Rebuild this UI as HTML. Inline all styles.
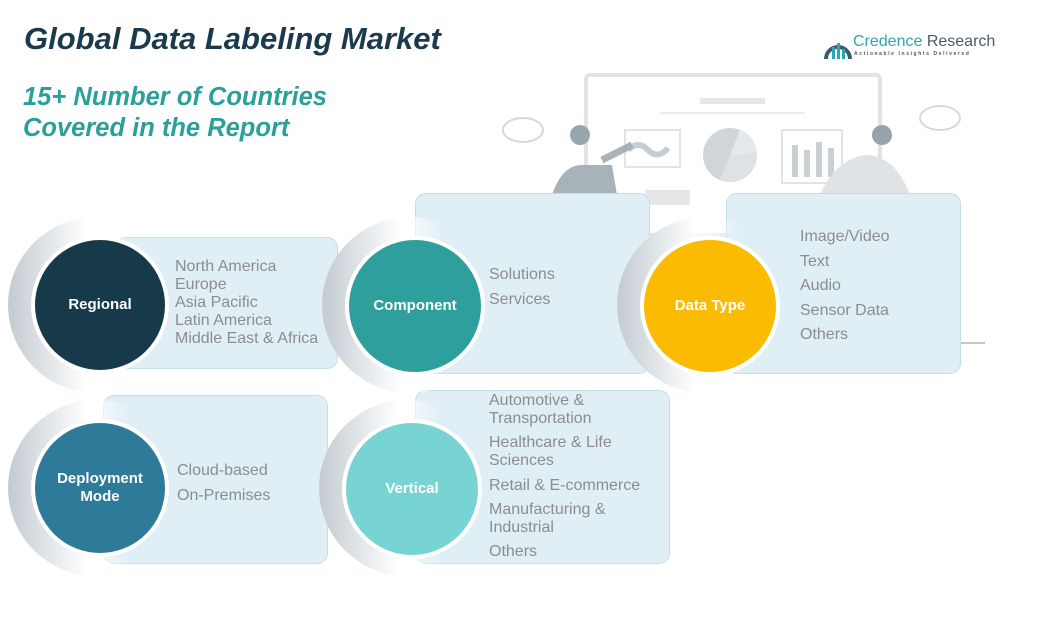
<!DOCTYPE html>
<html><head><meta charset="utf-8"><style>
body{margin:0;width:1061px;height:635px;background:#fff;position:relative;overflow:hidden;font-family:"Liberation Sans",sans-serif}
.a{position:absolute}
.panel{position:absolute;background:#e0eef6;border:1.5px solid #c4dde9;border-radius:11px;box-sizing:border-box}
.ring{position:absolute;border-radius:50%;background:linear-gradient(90deg,#c3cbd0 0%,#e4e8eb 25%,rgba(255,255,255,0.9) 45%,rgba(255,255,255,0) 70%)}
.c{position:absolute;border-radius:50%;border:4px solid #fff;box-sizing:border-box;color:#fff;font-weight:bold;font-size:15px;display:flex;align-items:center;justify-content:center;text-align:center;line-height:18px}
.t{position:absolute;color:#8d8d8d;font-size:16px;line-height:18px;white-space:nowrap}
</style></head><body>
<div class="a" style="left:24px;top:21px;font-size:31px;font-weight:bold;font-style:italic;color:#1b3a4c">Global Data Labeling Market</div>
<div class="a" style="left:23px;top:82px;font-size:25.5px;font-weight:bold;font-style:italic;color:#2a9f9c;line-height:31px">15+ Number of Countries<br>Covered in the Report</div>
<!-- logo -->
<svg class="a" style="left:823px;top:33px" width="30" height="28"><path d="M3 26 A12 12 0 1 1 27 26" fill="none" stroke="#3a5d6e" stroke-width="4"/><rect x="9" y="14" width="3" height="12" fill="#2aa6b5"/><rect x="14" y="10" width="3" height="16" fill="#2aa6b5"/><rect x="19" y="16" width="3" height="10" fill="#2aa6b5"/></svg>
<div class="a" style="left:853px;top:33px;font-size:16px;color:#2aa6b5">Credence <span style="color:#4b5c66">Research</span></div>
<div class="a" style="left:854px;top:51px;font-size:5px;letter-spacing:1.6px;color:#555;font-weight:bold">Actionable Insights Delivered</div>
<!-- illustration -->
<svg class="a" style="left:490px;top:60px" width="510" height="300">
<rect x="96" y="15" width="294" height="160" rx="4" fill="none" stroke="#e3e3e3" stroke-width="4"/>
<rect x="210" y="38" width="65" height="6" fill="#e6e6e6"/>
<line x1="170" y1="53" x2="315" y2="53" stroke="#ececec" stroke-width="2"/>
<rect x="135" y="70" width="55" height="37" fill="none" stroke="#e3e3e3" stroke-width="2"/>
<path d="M138 90 q10 -10 20 0 t20 -2" stroke="#c5cdd2" stroke-width="6" fill="none"/>
<circle cx="240" cy="95" r="27" fill="#cfd6da"/><path d="M240 95 L250 70 A27 27 0 0 1 267 93 Z" fill="#e6e9eb"/><path d="M240 95 L267 93 A27 27 0 0 1 230 120 Z" fill="#dde2e4"/>
<rect x="292" y="70" width="60" height="53" fill="none" stroke="#e3e3e3" stroke-width="2"/>
<rect x="302" y="85" width="6" height="32" fill="#c9d0d4"/><rect x="314" y="90" width="6" height="27" fill="#c9d0d4"/><rect x="326" y="82" width="6" height="35" fill="#c9d0d4"/><rect x="338" y="88" width="6" height="29" fill="#c9d0d4"/>
<path d="M62 135 q10 -30 30 -30 l30 0 l5 30 z" fill="#a7b2b9"/><circle cx="90" cy="75" r="10" fill="#9aa6ad"/><path d="M112 100 l30 -15" stroke="#a7b2b9" stroke-width="7"/>
<path d="M330 135 q15 -35 45 -40 q30 0 45 40 z" fill="#dfe3e6"/><circle cx="392" cy="75" r="10" fill="#97a3aa"/>
<ellipse cx="33" cy="70" rx="20" ry="12" fill="none" stroke="#d8d8d8" stroke-width="2"/>
<ellipse cx="450" cy="58" rx="20" ry="12" fill="none" stroke="#d8d8d8" stroke-width="2"/>
<rect x="155" y="130" width="45" height="15" fill="#e6e6e6"/>
<line x1="465" y1="283" x2="495" y2="283" stroke="#c8c8c8" stroke-width="2"/>
</svg>
<!-- panels -->
<div class="panel" style="left:115px;top:237px;width:223px;height:132px"></div>
<div class="panel" style="left:415px;top:193px;width:235px;height:181px"></div>
<div class="panel" style="left:726px;top:193px;width:235px;height:181px"></div>
<div class="panel" style="left:103px;top:395px;width:225px;height:169px"></div>
<div class="panel" style="left:415px;top:390px;width:255px;height:174px"></div>
<!-- rings -->
<div class="ring" style="left:8px;top:217px;width:176px;height:176px"></div>
<div class="ring" style="left:322px;top:217px;width:176px;height:176px"></div>
<div class="ring" style="left:617px;top:217px;width:176px;height:176px"></div>
<div class="ring" style="left:8px;top:400px;width:176px;height:176px"></div>
<div class="ring" style="left:319px;top:400px;width:176px;height:176px"></div>
<!-- circles -->
<div class="c" style="left:31px;top:236px;width:138px;height:138px;background:#173a4a">Regional</div>
<div class="c" style="left:345px;top:236px;width:140px;height:140px;background:#2e9f9d">Component</div>
<div class="c" style="left:640px;top:236px;width:140px;height:140px;background:#fbbb00">Data Type</div>
<div class="c" style="left:31px;top:419px;width:138px;height:138px;background:#2e7a99">Deployment<br>Mode</div>
<div class="c" style="left:342px;top:419px;width:140px;height:140px;background:#78d3d3">Vertical</div>
<!-- texts -->
<div class="t" style="left:175px;top:258px">North America<br>Europe<br>Asia Pacific<br>Latin America<br>Middle East &amp; Africa</div>
<div class="t" style="left:489px;top:262px;line-height:25px">Solutions<br>Services</div>
<div class="t" style="left:800px;top:225px;line-height:24.5px">Image/Video<br>Text<br>Audio<br>Sensor Data<br>Others</div>
<div class="t" style="left:177px;top:458px;line-height:25px">Cloud-based<br>On-Premises</div>
<div class="t" style="left:489px;top:392px">Automotive &amp;<br>Transportation</div>
<div class="t" style="left:489px;top:434px">Healthcare &amp; Life<br>Sciences</div>
<div class="t" style="left:489px;top:477px">Retail &amp; E-commerce</div>
<div class="t" style="left:489px;top:501px">Manufacturing &amp;<br>Industrial</div>
<div class="t" style="left:489px;top:543px">Others</div>
</body></html>
